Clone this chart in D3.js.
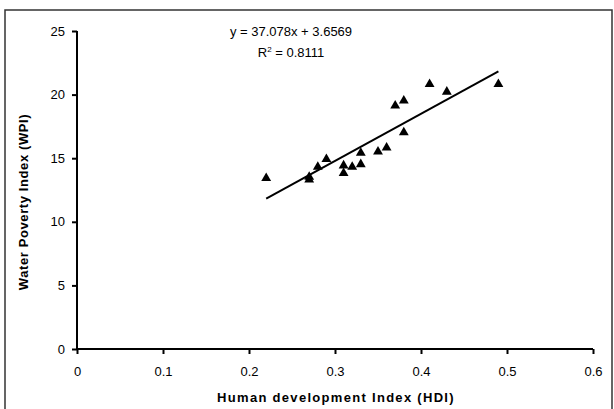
<!DOCTYPE html>
<html>
<head>
<meta charset="utf-8">
<script src="https://cdn.jsdelivr.net/npm/d3@7"></script>
<style>
  body { margin: 0; background: #fff; }
  text { font-family: "Liberation Sans", Arial, sans-serif; fill: #000; }
</style>
</head>
<body>
<div id="chart"></div>
<script>
// values
let hdi = [0.22, 0.27, 0.27, 0.28, 0.29, 0.31, 0.31, 0.32, 0.33, 0.33, 0.35, 0.36, 0.37, 0.38, 0.38, 0.41, 0.43, 0.49];
let wpi = [13.5, 13.4, 13.6, 14.4, 15.0, 14.5, 13.9, 14.4, 15.5, 14.6, 15.6, 15.9, 19.2, 19.6, 17.1, 20.9, 20.3, 20.9];
let xTicks = [0, 0.1, 0.2, 0.3, 0.4, 0.5, 0.6];
let yTicks = [0, 5, 10, 15, 20, 25];
let slope = 37.078, intercept = 3.6569;

let width = 614, height = 409;
let margin = {top: 31, right: 21, bottom: 60, left: 77};

let svg = d3.select('#chart')
    .append("svg")
    .attr("width", width)
    .attr("height", height);

// outer frame
svg.append("rect")
    .attr("x", 5).attr("y", 10)
    .attr("width", width - 7).attr("height", height - 7)
    .attr("fill", "none")
    .attr("stroke", "#333")
    .attr("stroke-width", 1.5);

let x = d3.scaleLinear()
    .domain([0, 0.6])
    .range([margin.left, width - margin.right]);

let y = d3.scaleLinear()
    .domain([0, 25])
    .range([height - margin.bottom, margin.top]);

let xAxis = svg.append("g")
    .attr("transform", `translate(0, ${height - margin.bottom})`)
    .call(d3.axisBottom(x).tickValues(xTicks).tickSize(5).tickPadding(13).tickFormat(d3.format("")));

let yAxis = svg.append("g")
    .attr("transform", `translate(${margin.left}, 0)`)
    .call(d3.axisLeft(y).tickValues(yTicks).tickSize(5).tickPadding(7));

[xAxis, yAxis].forEach(function(g) {
    g.select(".domain").attr("stroke", "#000").attr("stroke-width", 2);
    g.selectAll(".tick line").attr("stroke", "#000").attr("stroke-width", 2);
    g.selectAll(".tick text")
        .style("font-family", "Liberation Sans, Arial, sans-serif")
        .style("font-size", "13px")
        .attr("fill", "#000");
});
// strip the outer tick caps on the domain paths
xAxis.select(".domain").attr("d", `M${x(0)},0H${x(0.6)}`);
yAxis.select(".domain").attr("d", `M0,${y(0)}V${y(25)}`);

// trend line
svg.append("line")
    .attr("x1", x(0.22)).attr("y1", y(slope * 0.22 + intercept))
    .attr("x2", x(0.49)).attr("y2", y(slope * 0.49 + intercept))
    .attr("stroke", "#000")
    .attr("stroke-width", 2);

// points
svg.append("g").selectAll("path")
    .data(hdi.map((h, i) => ({h: h, w: wpi[i]})))
    .enter()
    .append("path")
    .attr("d", d3.symbol().type(d3.symbolTriangle).size(42))
    .attr("transform", d => `translate(${x(d.h)}, ${y(d.w) + 1})`)
    .attr("fill", "#000");

// equation
svg.append("text")
    .attr("x", 291).attr("y", 36)
    .style("text-anchor", "middle")
    .style("font-size", "13px")
    .text("y = 37.078x + 3.6569");

let r2 = svg.append("text")
    .attr("x", 291).attr("y", 57)
    .style("text-anchor", "middle")
    .style("font-size", "13px");
r2.append("tspan").text("R");
r2.append("tspan").attr("dy", -5).style("font-size", "8px").text("2");
r2.append("tspan").attr("dy", 5).text(" = 0.8111");

// axis titles
svg.append("text")
    .attr("x", 336).attr("y", 402)
    .style("text-anchor", "middle")
    .style("font-size", "13px")
    .style("font-weight", "bold")
    .style("letter-spacing", "1.3px")
    .text("Human development Index (HDI)");

svg.append("text")
    .attr("transform", `translate(28, 202) rotate(-90)`)
    .style("text-anchor", "middle")
    .style("font-size", "13px")
    .style("font-weight", "bold")
    .style("letter-spacing", "0.6px")
    .text("Water Poverty Index (WPI)");
</script>
</body>
</html>
